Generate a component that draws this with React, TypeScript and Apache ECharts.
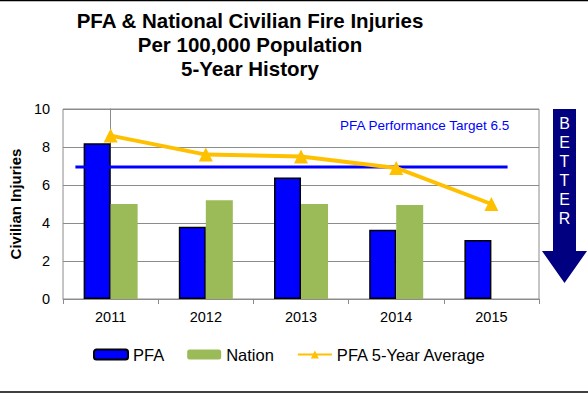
import React, { useEffect, useRef } from "react";
import * as echarts from "echarts";

const years = ["2011", "2012", "2013", "2014", "2015"];
const pfa = [8.2, 3.8, 6.4, 3.65, 3.1];
const nation = [5.0, 5.2, 5.0, 4.95, null];
const pfaAvg = [8.6, 7.6, 7.5, 6.9, 5.0];
const targetValue = 6.95;
const targetSpan = [-0.37, 4.17];
const yTicks = { min: 0, max: 10, interval: 2 };

const FONT = "Liberation Sans";

export default function App() {
  const ref = useRef<HTMLDivElement>(null);
  useEffect(() => {
    document.body.style.margin = "0";
    const chart = echarts.init(ref.current!, null, { renderer: "svg" });
    const gridLeft = 61, gridRight = 49, gridTop = 109, gridBottom = 94;
    chart.setOption({
      animation: false,
      textStyle: { fontFamily: FONT },
      grid: {
        left: gridLeft, right: gridRight, top: gridTop, bottom: gridBottom,
        show: true, borderColor: "#8c8c8c", borderWidth: 1,
      },
      legend: {
        data: ["PFA", "Nation", "PFA 5-Year Average"],
        top: 341,
        left: 88,
        itemWidth: 34,
        itemHeight: 10,
        itemGap: 23,
        textStyle: { fontSize: 16.5, color: "#000", fontFamily: FONT },
      },
      xAxis: [
        {
          type: "category",
          data: years,
          axisLine: { lineStyle: { color: "#8c8c8c" } },
          axisTick: { show: true, length: 5, lineStyle: { color: "#8c8c8c" } },
          axisLabel: { fontSize: 14.5, color: "#000", margin: 10, fontFamily: FONT },
        },
        {
          type: "value",
          min: -0.5,
          max: 4.5,
          show: false,
        },
      ],
      yAxis: {
        type: "value",
        min: yTicks.min,
        max: yTicks.max,
        interval: yTicks.interval,
        name: "Civilian Injuries",
        nameLocation: "middle",
        nameGap: 39,
        nameTextStyle: { fontSize: 15, fontWeight: "bold", color: "#000", fontFamily: FONT },
        axisLine: { show: true, lineStyle: { color: "#8c8c8c" } },
        axisTick: { show: true, length: 4, lineStyle: { color: "#8c8c8c" } },
        axisLabel: { fontSize: 14.5, color: "#000", margin: 13, fontFamily: FONT },
        splitLine: { lineStyle: { color: "#8c8c8c" } },
      },
      series: [
        {
          name: "PFA",
          type: "bar",
          data: pfa,
          barWidth: 27,
          barGap: "0%",
          itemStyle: { color: "#0000ff", borderColor: "#000", borderWidth: 1.5 },
          z: 2,
        },
        {
          name: "Nation",
          type: "bar",
          data: nation,
          barWidth: 27,
          barGap: "0%",
          itemStyle: { color: "#9bbb59" },
          z: 2,
        },
        {
          name: "Target",
          type: "line",
          xAxisIndex: 1,
          data: [[targetSpan[0], targetValue], [targetSpan[1], targetValue]],
          symbol: "none",
          lineStyle: { color: "#0000ff", width: 3 },
          z: 3,
        },
        {
          name: "PFA 5-Year Average",
          type: "line",
          data: pfaAvg,
          symbol: "triangle",
          symbolSize: 14,
          itemStyle: { color: "#ffc000" },
          lineStyle: { color: "#ffc000", width: 4 },
          z: 4,
        },
      ],
      graphic: [
        { type: "line", shape: { x1: 0, y1: 0.5, x2: 588, y2: 0.5 }, style: { stroke: "#000", lineWidth: 1.5 } },
        { type: "line", shape: { x1: 0, y1: 392, x2: 588, y2: 392 }, style: { stroke: "#000", lineWidth: 1.5 } },
        {
          type: "text",
          x: 250,
          y: 8,
          style: {
            text: "PFA & National Civilian Fire Injuries\nPer 100,000 Population\n5-Year History",
            font: "bold 20.5px " + FONT,
            fill: "#000",
            align: "center",
            lineHeight: 24,
          },
        },
        {
          type: "text",
          x: 340,
          y: 118,
          style: { text: "PFA Performance Target 6.5", font: "13.5px " + FONT, fill: "#0000ff" },
        },
        {
          type: "polygon",
          shape: {
            points: [
              [553, 109], [576, 109], [576, 251], [587, 251], [564.5, 283], [542, 251], [553, 251],
            ],
          },
          style: { fill: "#000080" },
        },
        {
          type: "text",
          x: 564.5,
          y: 114,
          style: {
            text: "B\nE\nT\nT\nE\nR",
            font: "16px " + FONT,
            fill: "#fff",
            align: "center",
            lineHeight: 19,
          },
        },
      ],
    });
    return () => chart.dispose();
  }, []);
  return <div ref={ref} style={{ width: 588, height: 393 }} />;
}
